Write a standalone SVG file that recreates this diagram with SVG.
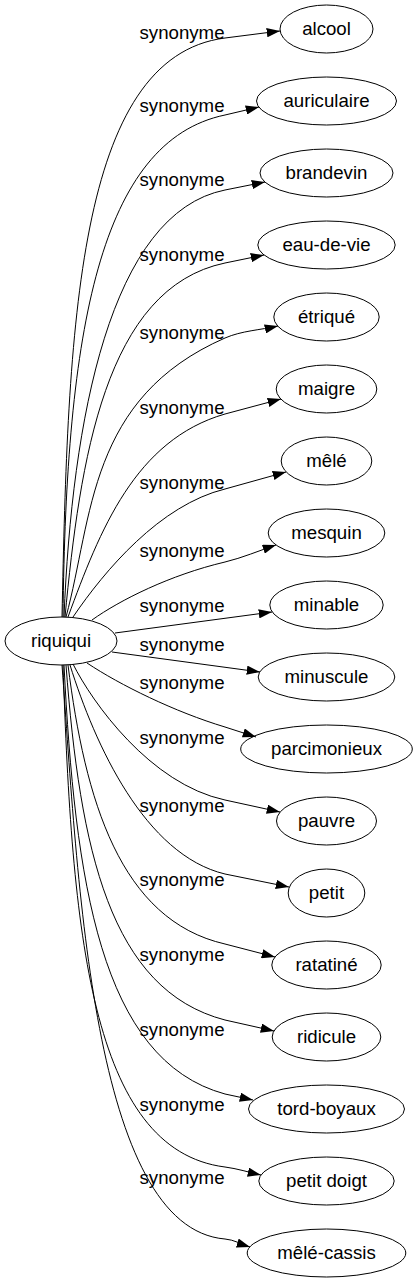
<svg xmlns="http://www.w3.org/2000/svg" width="417" height="1283" viewBox="0 0 417 1283">
<style>
.n ellipse{fill:none;stroke:#000;stroke-width:1}
text{font-family:"Liberation Sans",Arial,sans-serif;font-size:18.67px;fill:#000;text-anchor:middle}
.e path{fill:none;stroke:#000;stroke-width:1;marker-end:url(#a)}
</style>
<defs>
<marker id="a" markerUnits="userSpaceOnUse" viewBox="0 0 13.3 9.33" refX="13.3" refY="4.67" markerWidth="13.3" markerHeight="9.33" orient="auto"><path d="M0,0L13.3,4.67L0,9.33z" fill="#000"/></marker>
</defs>
<rect width="417" height="1283" fill="#fff"/>
<g id="edges" class="e">
<path d="M62,617 C68,330 76,57 225,38 L280,31"/>
<path d="M63,617 C66,330 100,141 225,115 L259,107"/>
<path d="M64,617 C72,420 110,213 225,190 L265,182"/>
<path d="M65,617 C80,460 105,288 225,263 L264,255"/>
<path d="M66,617 C93,517 88,398 225,338 C241.5,330.8 260.4,330 278,326"/>
<path d="M68,617 C100,530 135,440 225,414 L281,399"/>
<path d="M73,617 C105,570 160,505 225,489 L286,472"/>
<path d="M92,620 C120,600 170,575 225,562 C242.2,557.9 259.2,550.6 276,545"/>
<path d="M115,633 L272,612"/>
<path d="M112,652 L260,672"/>
<path d="M87,663 C120,685 175,712 225,727 L256,737"/>
<path d="M73,664 C92,702 150,784 225,800 L280,812"/>
<path d="M70,665 C95,745 145,855 225,874 L289,887"/>
<path d="M68,665 C85,800 120,920 225,944 L275,957"/>
<path d="M66,665 C80,850 110,990 225,1020 L274,1031"/>
<path d="M64,665 C75,880 100,1060 225,1094 L253,1100"/>
<path d="M63,665 C72,930 90,1150 225,1167 C236.9,1168.5 249.3,1172.4 261,1175"/>
<path d="M62,665 C78,880 92,1228 225,1239 C234,1239.7 241.4,1244.3 250,1247"/>
<text x="182" y="39">synonyme</text>
<text x="182" y="112">synonyme</text>
<text x="182" y="186">synonyme</text>
<text x="182" y="261">synonyme</text>
<text x="182" y="339">synonyme</text>
<text x="182" y="414">synonyme</text>
<text x="182" y="489">synonyme</text>
<text x="182" y="557">synonyme</text>
<text x="182" y="612">synonyme</text>
<text x="182" y="651">synonyme</text>
<text x="182" y="689">synonyme</text>
<text x="182" y="744">synonyme</text>
<text x="182" y="812">synonyme</text>
<text x="182" y="886">synonyme</text>
<text x="182" y="961">synonyme</text>
<text x="182" y="1036">synonyme</text>
<text x="182" y="1111">synonyme</text>
<text x="182" y="1184">synonyme</text>
</g>
<g id="riquiqui" class="n"><ellipse cx="61" cy="641" rx="56" ry="24"/><text x="61" y="647">riquiqui</text></g>
<g id="alcool" class="n"><ellipse cx="326.5" cy="29" rx="46.5" ry="24"/><text x="326.5" y="35">alcool</text></g>
<g id="auriculaire" class="n"><ellipse cx="326.5" cy="101" rx="70" ry="24"/><text x="326.5" y="107">auriculaire</text></g>
<g id="brandevin" class="n"><ellipse cx="326.5" cy="173" rx="66.5" ry="24"/><text x="326.5" y="179">brandevin</text></g>
<g id="eau-de-vie" class="n"><ellipse cx="326.5" cy="245" rx="68.7" ry="24"/><text x="326.5" y="251">eau-de-vie</text></g>
<g id="etrique" class="n"><ellipse cx="326.5" cy="317" rx="52.7" ry="24"/><text x="326.5" y="323">étriqué</text></g>
<g id="maigre" class="n"><ellipse cx="326.5" cy="389" rx="50.3" ry="24"/><text x="326.5" y="395">maigre</text></g>
<g id="mele" class="n"><ellipse cx="326.5" cy="461" rx="45.3" ry="24"/><text x="326.5" y="467">mêlé</text></g>
<g id="mesquin" class="n"><ellipse cx="326.5" cy="533" rx="58.3" ry="24"/><text x="326.5" y="539">mesquin</text></g>
<g id="minable" class="n"><ellipse cx="326.5" cy="605" rx="56.7" ry="24"/><text x="326.5" y="611">minable</text></g>
<g id="minuscule" class="n"><ellipse cx="326.5" cy="677" rx="68.3" ry="24"/><text x="326.5" y="683">minuscule</text></g>
<g id="parcimonieux" class="n"><ellipse cx="326.5" cy="749" rx="85.8" ry="24"/><text x="326.5" y="755">parcimonieux</text></g>
<g id="pauvre" class="n"><ellipse cx="326.5" cy="821" rx="50" ry="24"/><text x="326.5" y="827">pauvre</text></g>
<g id="petit" class="n"><ellipse cx="326.5" cy="893" rx="38.3" ry="24"/><text x="326.5" y="899">petit</text></g>
<g id="ratatine" class="n"><ellipse cx="326.5" cy="965" rx="54.7" ry="24"/><text x="326.5" y="971">ratatiné</text></g>
<g id="ridicule" class="n"><ellipse cx="326.5" cy="1037" rx="54.3" ry="24"/><text x="326.5" y="1043">ridicule</text></g>
<g id="tord-boyaux" class="n"><ellipse cx="326.5" cy="1109" rx="78" ry="24"/><text x="326.5" y="1115">tord-boyaux</text></g>
<g id="petit-doigt" class="n"><ellipse cx="326.5" cy="1181" rx="67.7" ry="24"/><text x="326.5" y="1187">petit doigt</text></g>
<g id="mele-cassis" class="n"><ellipse cx="326.5" cy="1253" rx="79.3" ry="24"/><text x="326.5" y="1259">mêlé-cassis</text></g>
</svg>
